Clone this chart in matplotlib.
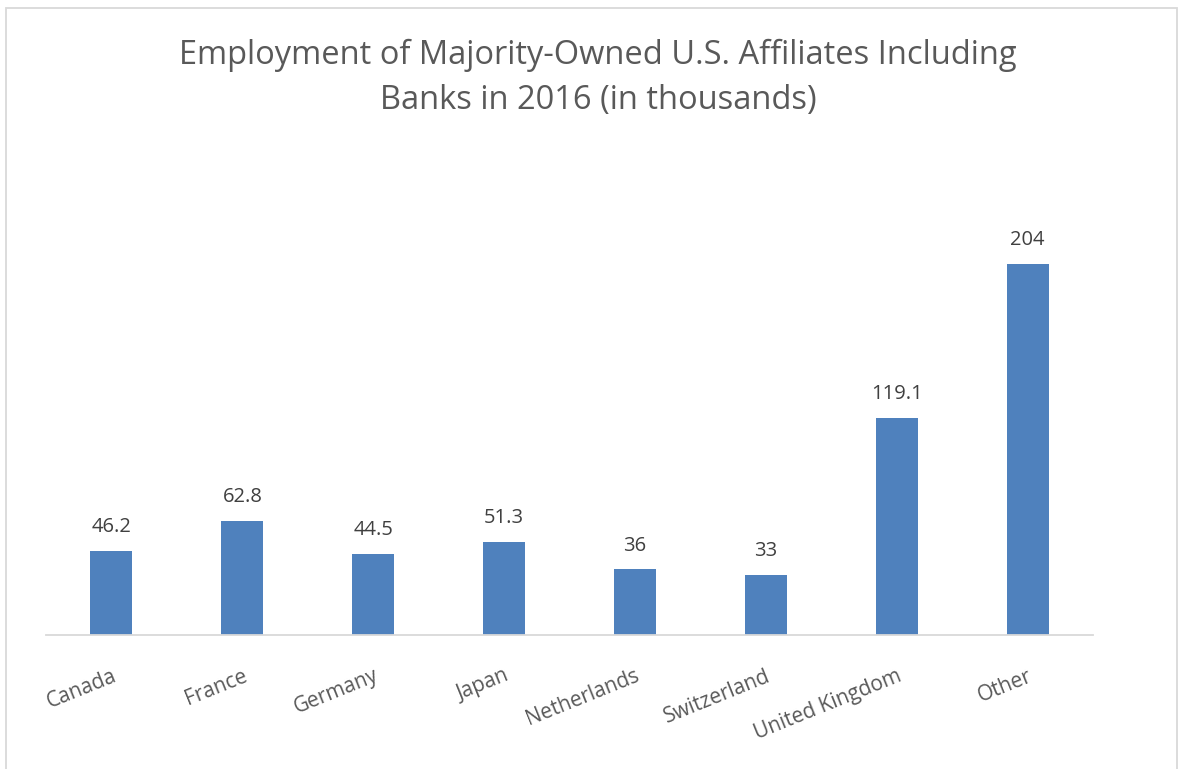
import matplotlib.pyplot as plt
from matplotlib.patches import Rectangle

countries = ['Canada', 'France', 'Germany', 'Japan', 'Netherlands',
             'Switzerland', 'United Kingdom', 'Other']
employment = [46.2, 62.8, 44.5, 51.3, 36, 33, 119.1, 204]
value_labels = ['46.2', '62.8', '44.5', '51.3', '36', '33', '119.1', '204']

plt.rcParams['font.family'] = ['Open Sans', 'DejaVu Sans']

fig = plt.figure(figsize=(11.88, 7.69), dpi=100)
ax = fig.add_axes([46 / 1188, 1 - 635 / 769, (1093 - 46) / 1188, (635 - 180) / 769])

x = range(len(countries))
bars = ax.bar(x, employment, width=0.32, color='#4F81BD', zorder=2)
ax.set_xlim(-0.5, len(countries) - 0.5)
ax.set_ylim(0, 250)

for xi, v, lab in zip(x, employment, value_labels):
    ax.annotate(lab, (xi, v), xytext=(0, 13.5), textcoords='offset points',
                ha='center', va='baseline', fontsize=14.5, color='#404040')

ax.set_xticks(list(x))
ax.set_xticklabels(countries, rotation=22, ha='right', rotation_mode='anchor',
                   fontsize=15, color='#595959')
ax.tick_params(axis='x', length=0, pad=22)
ax.set_yticks([])
for s in ['top', 'right', 'left']:
    ax.spines[s].set_visible(False)
ax.spines['bottom'].set_color('#D9D9D9')
ax.spines['bottom'].set_linewidth(1.3)

fig.text(598 / 1188, 1 - 78 / 769,
         'Employment of Majority-Owned U.S. Affiliates Including\nBanks in 2016 (in thousands)',
         ha='center', va='center', fontsize=23.5, color='#595959', linespacing=1.45)

fig.patches.append(Rectangle((6 / 1188, -0.01), (1177 - 6) / 1188, 1 - 8 / 769 + 0.01,
                             transform=fig.transFigure, fill=False,
                             edgecolor='#D9D9D9', linewidth=1.3))

fig.savefig('out.png', dpi=100)
